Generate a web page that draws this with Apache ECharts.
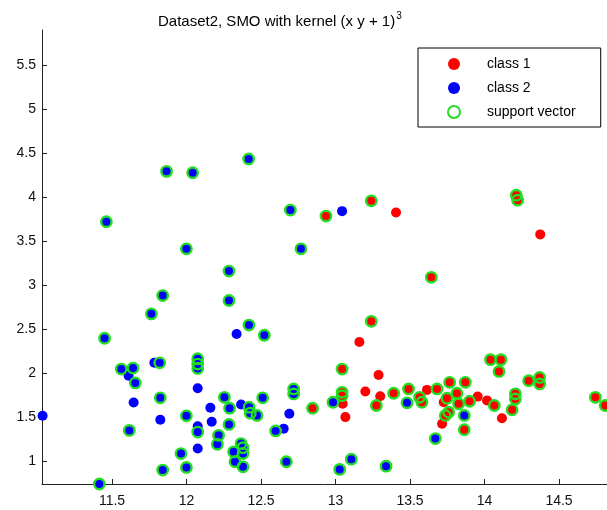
<!DOCTYPE html>
<html><head><meta charset="utf-8">
<script src="https://cdn.jsdelivr.net/npm/echarts@6/dist/echarts.min.js"></script>
<style>html,body{margin:0;padding:0;background:#fff}#c{width:607px;height:510px}</style>
</head><body><div id="c"></div>
<script>
const titleText = 'Dataset2, SMO with kernel (x y + 1)';
const titleExponent = '3';
const seriesNames = ['class 1', 'class 2', 'support vector'];
const xTickValues = [11.5, 12, 12.5, 13, 13.5, 14, 14.5];
const yTickValues = [1, 1.5, 2, 2.5, 3, 3.5, 4, 4.5, 5, 5.5];
const xRange = [11.03, 14.822];
const yRange = [0.737, 5.895];

// class 1 (red) points [x, y]
const class1Points = [
  [12.936,3.781],[13.24,3.954],[13.406,3.822],[14.213,4.018],[14.222,3.962],[14.374,3.573],
  [13.643,3.085],[13.24,2.585],[13.16,2.351],[13.044,2.043],[13.289,1.975],[13.044,1.779],
  [13.044,1.741],[13.2,1.787],[13.3,1.734],[13.39,1.768],[13.274,1.629],[12.846,1.598],
  [13.048,1.648],[13.066,1.497],[13.49,1.817],[13.564,1.722],[13.58,1.666],[13.614,1.806],
  [13.681,1.817],[13.766,1.892],[13.871,1.892],[13.815,1.768],[13.748,1.711],[13.726,1.666],
  [13.826,1.648],[13.9,1.677],[13.954,1.73],[14.017,1.685],[14.066,1.629],[13.737,1.516],
  [13.759,1.553],[13.715,1.422],[13.864,1.354],[14.04,2.15],[14.11,2.15],[14.097,2.016],
  [14.117,1.485],[14.185,1.58],[14.207,1.761],[14.207,1.704],[14.296,1.911],[14.37,1.948],
  [14.37,1.874],[14.744,1.722],[14.81,1.629]
];
// 1 = point is a support vector
const class1SupportFlags = [
  1,1,0,1,1,0,
  1,1,0,1,0,1,
  1,0,0,1,1,1,
  0,0,1,1,1,0,
  1,1,1,1,1,0,
  1,1,0,0,1,1,
  1,0,1,1,1,1,
  0,1,1,1,1,1,
  1,1,1
];

// class 2 (blue) points [x, y]
const class2Points = [
  [11.462,3.717],[11.866,4.289],[12.041,4.273],[12.417,4.43],[12.697,3.849],[12.768,3.409],
  [11.999,3.409],[12.285,3.156],[12.285,2.822],[11.84,2.878],[11.764,2.67],[11.45,2.393],
  [12.336,2.441],[12.419,2.543],[12.522,2.427],[13.044,3.837],[11.034,1.512],[11.415,0.737],
  [11.562,2.043],[11.641,2.054],[11.611,1.967],[11.656,1.885],[11.645,1.663],[11.616,1.346],
  [11.784,2.114],[11.82,2.114],[11.824,1.716],[11.824,1.467],[11.84,0.895],[11.963,1.083],
  [11.999,0.925],[11.999,1.512],[12.075,2.16],[12.075,2.10],[12.075,2.05],[12.075,1.824],
  [12.075,1.392],[12.075,1.327],[12.075,1.14],[12.16,1.603],[12.169,1.445],[12.215,1.29],
  [12.207,1.188],[12.254,1.722],[12.289,1.598],[12.285,1.414],[12.366,1.64],[12.42,1.61],
  [12.428,1.542],[12.473,1.516],[12.511,1.716],[12.719,1.817],[12.719,1.76],[12.69,1.535],
  [12.598,1.34],[12.652,1.366],[12.366,1.196],[12.379,1.15],[12.379,1.083],[12.316,1.102],
  [12.325,0.99],[12.379,0.932],[12.67,0.99],[12.983,1.666],[13.106,1.019],[13.028,0.903],
  [13.339,0.94],[13.48,1.659],[13.864,1.516],[13.67,1.253]
];
const class2SupportFlags = [
  1,1,1,1,1,1,
  1,1,1,1,1,1,
  0,1,1,0,0,1,
  1,1,0,1,0,1,
  0,1,1,0,1,1,
  1,1,1,1,1,0,
  0,1,0,0,0,1,
  1,1,1,1,0,1,
  1,1,1,1,1,0,
  1,0,1,1,1,1,
  1,1,1,1,1,1,
  1,1,1,1
];

const supportVectors = class1Points.filter((p, i) => class1SupportFlags[i])
  .concat(class2Points.filter((p, i) => class2SupportFlags[i]));

const FONT = 'Liberation Sans, Arial, sans-serif';
const chart = echarts.init(document.getElementById('c'), null, {renderer: 'canvas'});
chart.setOption({
  animation: false,
  backgroundColor: '#fff',
  title: {
    text: '{a|' + titleText + '}{s|' + titleExponent + '}',
    left: 158, top: 11, padding: 0,
    textStyle: {
      fontWeight: 'normal',
      rich: {
        a: {fontFamily: FONT, fontSize: 15, fontWeight: 'normal', color: '#000', lineHeight: 18, verticalAlign: 'bottom'},
        s: {fontFamily: FONT, fontSize: 10, fontWeight: 'normal', color: '#000', lineHeight: 18, verticalAlign: 'top', padding: [0, 0, 0, 1]}
      }
    }
  },
  legend: {
    orient: 'vertical',
    left: 418, top: 48,
    padding: [9, 25, 8, 29],
    borderColor: '#000', borderWidth: 1, borderRadius: 0,
    backgroundColor: '#fff',
    itemWidth: 56, itemHeight: 12, itemGap: 10,
    textStyle: {fontFamily: FONT, fontSize: 14, color: '#000', lineHeight: 14},
    data: seriesNames
  },
  grid: {left: 42, right: 0, top: 30, bottom: 26, containLabel: false, outerBoundsMode: 'none'},
  xAxis: {
    type: 'value', min: xRange[0], max: xRange[1],
    axisLine: {show: true, onZero: false, lineStyle: {color: '#222', width: 1}},
    axisTick: {show: true, inside: true, length: 5, customValues: xTickValues, lineStyle: {color: '#222'}},
    axisLabel: {customValues: xTickValues, margin: 10, fontFamily: FONT, fontSize: 14, color: '#111'},
    splitLine: {show: false}
  },
  yAxis: {
    type: 'value', min: yRange[0], max: yRange[1],
    axisLine: {show: true, onZero: false, lineStyle: {color: '#222', width: 1}},
    axisTick: {show: true, inside: true, length: 5, customValues: yTickValues, lineStyle: {color: '#222'}},
    axisLabel: {customValues: yTickValues, margin: 6, fontFamily: FONT, fontSize: 14, color: '#111'},
    splitLine: {show: false}
  },
  series: [
    {name: seriesNames[0], type: 'scatter', data: class1Points, symbol: 'circle', symbolSize: 10,
     clip: false, itemStyle: {color: '#ff0000', opacity: 1}},
    {name: seriesNames[1], type: 'scatter', data: class2Points, symbol: 'circle', symbolSize: 10,
     clip: false, itemStyle: {color: '#0000ff', opacity: 1}},
    {name: seriesNames[2], type: 'scatter', data: supportVectors, symbol: 'circle', symbolSize: 10.4,
     clip: false, itemStyle: {color: 'rgba(0,0,0,0)', borderColor: '#22dd22', borderWidth: 2.4, opacity: 1}}
  ]
});
</script></body></html>
